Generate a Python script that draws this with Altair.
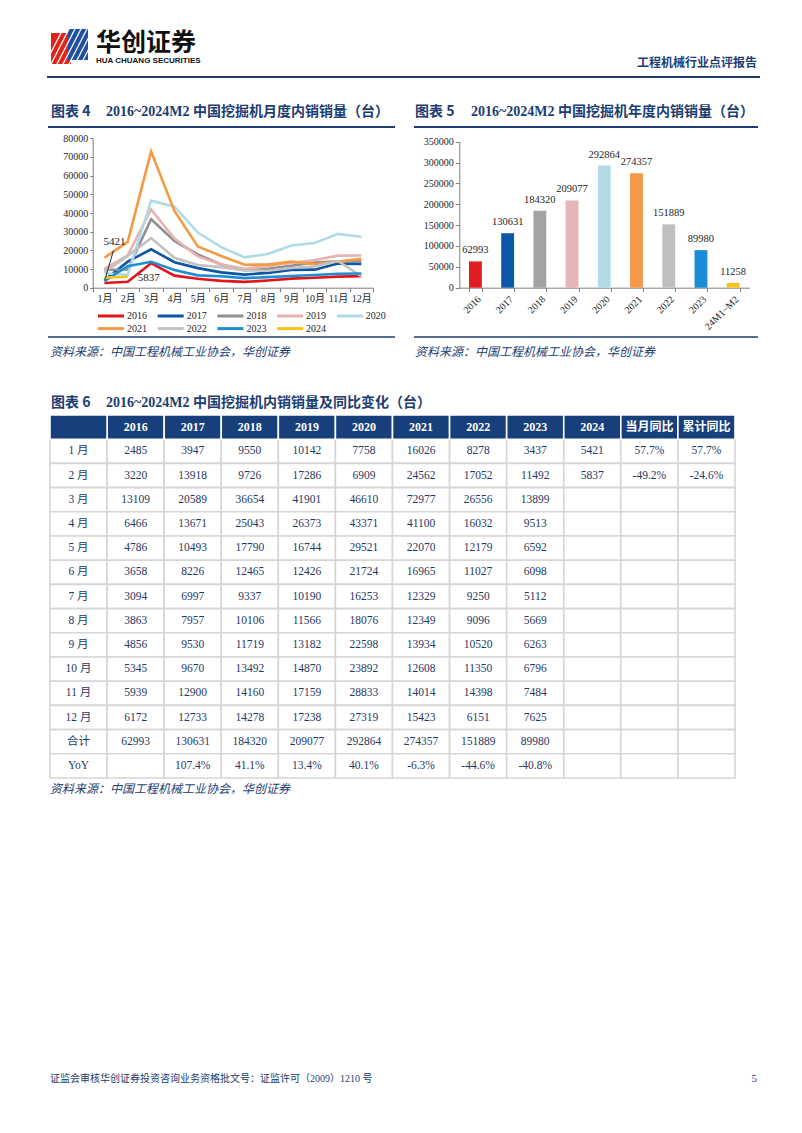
import altair as alt
import pandas as pd

# ---------------- data ----------------
months = ["1月", "2月", "3月", "4月", "5月", "6月", "7月", "8月", "9月", "10月", "11月", "12月"]
years = ["2016", "2017", "2018", "2019", "2020", "2021", "2022", "2023", "2024"]

sales_2016 = [2485, 3220, 13109, 6466, 4786, 3658, 3094, 3863, 4856, 5345, 5939, 6172]
sales_2017 = [3947, 13918, 20589, 13671, 10493, 8226, 6997, 7957, 9530, 9670, 12900, 12733]
sales_2018 = [9550, 9726, 36654, 25043, 17790, 12465, 9337, 10106, 11719, 13492, 14160, 14278]
sales_2019 = [10142, 17286, 41901, 26373, 16744, 12426, 10190, 11566, 13182, 14870, 17159, 17238]
sales_2020 = [7758, 6909, 46610, 43371, 29521, 21724, 16253, 18076, 22598, 23892, 28833, 27319]
sales_2021 = [16026, 24562, 72977, 41100, 22070, 16965, 12329, 12349, 13934, 12608, 14014, 15423]
sales_2022 = [8278, 17052, 26556, 16032, 12179, 11027, 9250, 9096, 10520, 11350, 14398, 6151]
sales_2023 = [3437, 11492, 13899, 9513, 6592, 6098, 5112, 5669, 6263, 6796, 7484, 7625]
sales_2024 = [5421, 5837]

annual_labels = ["2016", "2017", "2018", "2019", "2020", "2021", "2022", "2023", "24M1~M2"]
annual_totals = [62993, 130631, 184320, 209077, 292864, 274357, 151889, 89980, 11258]
yoy_total = ["", "107.4%", "41.1%", "13.4%", "40.1%", "-6.3%", "-44.6%", "-40.8%"]
month_yoy_2024 = ["57.7%", "-49.2%"]
cum_yoy_2024 = ["57.7%", "-24.6%"]

line_ticks = [0, 10000, 20000, 30000, 40000, 50000, 60000, 70000, 80000]
bar_ticks = [0, 50000, 100000, 150000, 200000, 250000, 300000, 350000]

line_colors = ["#e3141c", "#0d55a5", "#8f8f8f", "#e9b2b2", "#afdbe8",
               "#f39a44", "#c2c2c2", "#1c8ed6", "#f5c41a"]
bar_colors = ["#e31b23", "#0b58ab", "#a3a3a3", "#e6b5b5", "#b2dbe8",
              "#f4984a", "#bfbfbf", "#1b8cd5", "#f5c31c"]

table_rows = ["1 月", "2 月", "3 月", "4 月", "5 月", "6 月", "7 月", "8 月", "9 月",
              "10 月", "11 月", "12 月", "合计", "YoY"]
table_extra_cols = ["当月同比", "累计同比"]

NAVY = "#1b3d72"
HEAD = "#173f7c"
TXT = "#1f3864"
AX = "#7f7f7f"
SERIF = "Liberation Serif, Noto Sans CJK SC"
CJK = "Noto Sans CJK SC"
W, H = 786, 1110


def P(v):
    return v - 8


ONE = alt.Data(values=[{"a": 1}])


def label(text, x, y, size, color=NAVY, bold=False, font=SERIF, align="left", italic=False):
    kw = dict(text=text, fontSize=size, color=color, font=font, align=align, baseline="middle")
    if bold:
        kw["fontWeight"] = "bold"
    if italic:
        kw["fontStyle"] = "italic"
    return alt.Chart(ONE).mark_text(**kw).encode(x=alt.value(P(x)), y=alt.value(P(y)))


def hline(x1, x2, y, color, width):
    return alt.Chart(ONE).mark_rule(color=color, strokeWidth=width).encode(
        x=alt.value(P(x1)), x2=alt.value(P(x2)), y=alt.value(P(y)))


def box(x1, x2, y1, y2, color):
    return alt.Chart(ONE).mark_rect(color=color).encode(
        x=alt.value(P(x1)), x2=alt.value(P(x2)), y=alt.value(P(y1)), y2=alt.value(P(y2)))


def seg(x1, y1, x2, y2, color, width):
    return alt.Chart(ONE).mark_rule(color=color, strokeWidth=width).encode(
        x=alt.value(P(x1)), x2=alt.value(P(x2)), y=alt.value(P(y1)), y2=alt.value(P(y2)))


layers = []

# ---------------- header ----------------
layers.append(box(51, 71, 33, 64, "#e2231a"))
layers.append(box(68, 88, 29, 60, "#1f4fa3"))
for k in range(9):
    layers.append(seg(44 + 6 * k, 66, 64 + 6 * k, 27, "white", 1.3))
layers.append(label("华创证券", 96, 43, 25, color="#111111", bold=True, font=CJK))
layers.append(label("HUA CHUANG SECURITIES", 96, 61, 8, color="#111111", bold=True,
                    font="Liberation Sans Narrow, Liberation Sans"))
layers.append(label("工程机械行业点评报告", 757, 63, 12, color=NAVY, bold=True, font=CJK, align="right"))
layers.append(hline(47, 760, 77, NAVY, 2))

# ---------------- figure titles / rules / sources ----------------
layers.append(label("图表 4", 51, 112, 14, bold=True, font=CJK))
layers.append(label("2016~2024M2 中国挖掘机月度内销销量（台）", 106, 112, 14, bold=True))
layers.append(hline(48, 395, 127, NAVY, 2))
layers.append(label("图表 5", 415, 112, 14, bold=True, font=CJK))
layers.append(label("2016~2024M2 中国挖掘机年度内销销量（台）", 471, 112, 14, bold=True))
layers.append(hline(414, 758, 127, NAVY, 2))
layers.append(hline(48, 395, 337, NAVY, 1.5))
layers.append(hline(414, 758, 337, NAVY, 1.5))
layers.append(label("资料来源：中国工程机械工业协会，华创证券", 50, 352, 12, italic=True, font=CJK))
layers.append(label("资料来源：中国工程机械工业协会，华创证券", 415, 352, 12, italic=True, font=CJK))
layers.append(label("图表 6", 51, 403, 14, bold=True, font=CJK))
layers.append(label("2016~2024M2 中国挖掘机内销销量及同比变化（台）", 106, 403, 14, bold=True))
layers.append(label("资料来源：中国工程机械工业协会，华创证券", 50, 789, 12, italic=True, font=CJK))
layers.append(label("证监会审核华创证券投资咨询业务资格批文号：证监许可（2009）1210 号", 50, 1079, 10, font=SERIF))
layers.append(label("5", 757, 1079, 11, font=SERIF, align="right"))

# ---------------- line chart (figure 4) ----------------
series = [sales_2016, sales_2017, sales_2018, sales_2019, sales_2020,
          sales_2021, sales_2022, sales_2023, sales_2024]
line_rows = []
for yr, vals in zip(years, series):
    for m, v in zip(months, vals):
        line_rows.append({"month": m, "year": yr, "value": v})
line_df = pd.DataFrame(line_rows)

x_line = alt.Scale(type="band", domain=months, range=[P(92.7), P(373)], paddingInner=0, paddingOuter=0)
y_line = alt.Scale(domain=[0, 80000], range=[P(287.7), P(138.3)], nice=False, zero=False)

lines = alt.Chart(line_df).mark_line(strokeWidth=2.6).encode(
    x=alt.X("month:N", scale=x_line, bandPosition=0.5,
            axis=alt.Axis(orient="bottom", offset=P(287.7) - H, tickBand="extent", labelAngle=0,
                          title=None, grid=False, domainColor=AX, tickColor=AX, tickSize=4,
                          labelPadding=2, labelFont=SERIF, labelFontSize=10, labelColor="#262626")),
    y=alt.Y("value:Q", scale=y_line,
            axis=alt.Axis(orient="left", offset=-P(92.7), values=line_ticks, format="d", title=None,
                          grid=False, domainColor=AX, tickColor=AX, tickSize=3, labelPadding=2,
                          labelFont=SERIF, labelFontSize=10, labelColor="#262626")),
    color=alt.Color("year:N", scale=alt.Scale(domain=years, range=line_colors), legend=None),
)
layers.append(lines)

ann_df = pd.DataFrame({"month": months[:2], "value": sales_2024, "t": [str(v) for v in sales_2024]})
ann_x = alt.X("month:N", scale=x_line, bandPosition=0.5, axis=None)
ann_y = alt.Y("value:Q", scale=y_line, axis=None)
layers.append(alt.Chart(ann_df.iloc[[0]]).mark_text(font=SERIF, fontSize=11, color="#262626", dx=10, dy=-36)
              .encode(x=ann_x, y=ann_y, text="t:N"))
layers.append(alt.Chart(ann_df.iloc[[1]]).mark_text(font=SERIF, fontSize=11, color="#262626", dx=21, dy=1)
              .encode(x=ann_x, y=ann_y, text="t:N"))
layers.append(alt.Chart(ann_df.iloc[[0]]).mark_rule(color="#262626", strokeWidth=1, xOffset=1, yOffset=1,
                                                    x2Offset=9, y2Offset=-27)
              .encode(x=ann_x, y=ann_y,
                      x2=alt.X2("month:N"), y2=alt.Y2("value:Q")))

# legend of figure 4
leg_df = pd.DataFrame({"year": years, "col": [i % 5 for i in range(9)], "row": [i // 5 for i in range(9)]})
leg_x = alt.X("col:Q", scale=alt.Scale(domain=[0, 5], range=[P(98), P(98 + 5 * 59.7)], zero=False, nice=False), axis=None)
leg_y = alt.Y("row:Q", scale=alt.Scale(domain=[0, 1], range=[P(316), P(328.6)], zero=False, nice=False), axis=None)
leg_c = alt.Color("year:N", scale=alt.Scale(domain=years, range=line_colors), legend=None)
layers.append(alt.Chart(leg_df).mark_rule(strokeWidth=3, x2Offset=26).encode(
    x=leg_x, x2=alt.X2("col:Q"), y=leg_y, color=leg_c))
layers.append(alt.Chart(leg_df).mark_text(font=SERIF, fontSize=10, color="#262626", align="left", dx=29).encode(
    x=leg_x, y=leg_y, text="year:N"))

# ---------------- bar chart (figure 5) ----------------
bar_df = pd.DataFrame({"label": annual_labels, "total": annual_totals, "t": [str(v) for v in annual_totals]})
x_bar = alt.Scale(type="band", domain=annual_labels, range=[P(459.3), P(749.3)], paddingInner=0.6, paddingOuter=0.3)
y_bar = alt.Scale(domain=[0, 350000], range=[P(287.7), P(141.7)], nice=False, zero=False)

bars = alt.Chart(bar_df).mark_bar().encode(
    x=alt.X("label:N", scale=x_bar,
            axis=alt.Axis(orient="bottom", offset=P(287.7) - H, tickBand="extent", labelAngle=315,
                          labelAlign="right", labelBaseline="top", title=None, grid=False,
                          domainColor=AX, tickColor=AX, tickSize=4, labelPadding=2,
                          labelFont=SERIF, labelFontSize=10, labelColor="#262626")),
    y=alt.Y("total:Q", scale=y_bar,
            axis=alt.Axis(orient="left", offset=-P(459.3), values=bar_ticks, format="d", title=None,
                          grid=False, domainColor=AX, tickColor=AX, tickSize=4, labelPadding=2,
                          labelFont=SERIF, labelFontSize=10, labelColor="#262626")),
    color=alt.Color("label:N", scale=alt.Scale(domain=annual_labels, range=bar_colors), legend=None),
)
layers.append(bars)
layers.append(alt.Chart(bar_df).mark_text(font=SERIF, fontSize=10.5, color="#262626", dy=-11).encode(
    x=alt.X("label:N", scale=x_bar, bandPosition=0.5, axis=None),
    y=alt.Y("total:Q", scale=y_bar, axis=None),
    text="t:N"))

# ---------------- table (figure 6) ----------------
col_keys = ["row"] + years + table_extra_cols
row_keys = ["head"] + table_rows
cells = []
for c in col_keys[1:]:
    cells.append({"col": c, "row": "head", "t": c, "kind": "head"})
for i, r in enumerate(table_rows):
    cells.append({"col": "row", "row": r, "t": r, "kind": "body"})
    for j, yr in enumerate(years):
        t = ""
        if i < 12:
            vals = series[j]
            t = str(vals[i]) if i < len(vals) else ""
        elif r == "合计" and j < 8:
            t = str(annual_totals[j])
        elif r == "YoY" and j < 8:
            t = yoy_total[j]
        cells.append({"col": yr, "row": r, "t": t, "kind": "body"})
    cells.append({"col": "当月同比", "row": r, "t": month_yoy_2024[i] if i < 2 else "", "kind": "body"})
    cells.append({"col": "累计同比", "row": r, "t": cum_yoy_2024[i] if i < 2 else "", "kind": "body"})
cells.append({"col": "row", "row": "head", "t": "", "kind": "head"})
tab_df = pd.DataFrame(cells)

x_tab = alt.Scale(type="band", domain=col_keys, range=[P(50), P(735)], paddingInner=0, paddingOuter=0)
y_tab = alt.Scale(type="band", domain=row_keys, range=[P(415), P(778)], paddingInner=0, paddingOuter=0)
tx = alt.X("col:N", scale=x_tab, axis=None)
ty = alt.Y("row:N", scale=y_tab, axis=None)

head_df = tab_df[tab_df.kind == "head"]
body_df = tab_df[tab_df.kind == "body"]
layers.append(alt.Chart(body_df).mark_rect(fill="white", stroke="#d6d6d6", strokeWidth=1.6).encode(x=tx, y=ty))
layers.append(alt.Chart(head_df).mark_rect(fill=HEAD, stroke="white", strokeWidth=1.6).encode(x=tx, y=ty))
layers.append(alt.Chart(head_df).mark_text(font=SERIF, fontSize=12, fontWeight="bold", color="white").encode(
    x=alt.X("col:N", scale=x_tab, axis=None, bandPosition=0.5),
    y=alt.Y("row:N", scale=y_tab, axis=None, bandPosition=0.5), text="t:N"))
layers.append(alt.Chart(body_df).mark_text(font=SERIF, fontSize=11.5, color=TXT).encode(
    x=alt.X("col:N", scale=x_tab, axis=None, bandPosition=0.5),
    y=alt.Y("row:N", scale=y_tab, axis=None, bandPosition=0.5), text="t:N"))

chart = (
    alt.layer(*layers)
    .resolve_scale(x="independent", y="independent", color="independent")
    .properties(width=W, height=H, padding=0, autosize=alt.AutoSizeParams(type="none"), background="white")
    .configure_view(stroke=None)
)

chart.save("out.html", embed_options={"renderer": "svg", "actions": False})
